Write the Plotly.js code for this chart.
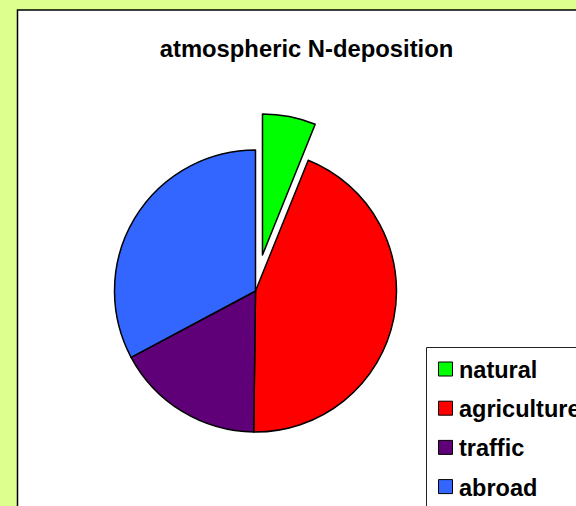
<!DOCTYPE html>
<html>
<head>
<meta charset="utf-8">
<script src="https://cdn.plot.ly/plotly-3.0.1.min.js"></script>
<style>html,body{margin:0;padding:0;background:#DDFF8E;}#chart{width:576px;height:506px;}</style>
</head>
<body>
<div id="chart"></div>
<script>
// ---- data ----
var categories = ["natural", "agriculture", "traffic", "abroad"];
var shares = [6.1, 44.1, 17.0, 32.8];
var pulls = [0.26, 0, 0, 0];
var sliceColors = ["#00FF00", "#FF0000", "#5F0078", "#3366FF"];
var chartTitle = "atmospheric N-deposition";

// ---- layout helpers (pixels -> paper) ----
var W = 576, H = 506;
function px(x) { return x / W; }
function py(y) { return 1 - y / H; }

var fontFam = "Liberation Sans, Arial, sans-serif";

var shapes = [
  // plot area frame
  {type: "rect", xref: "paper", yref: "paper", layer: "below",
   x0: px(17.5), x1: px(640), y0: py(560), y1: py(10),
   fillcolor: "#FFFFFF", line: {color: "#000000", width: 1.5}},
  // legend frame
  {type: "rect", xref: "paper", yref: "paper", layer: "below",
   x0: px(426.5), x1: px(640), y0: py(560), y1: py(347.5),
   fillcolor: "#FFFFFF", line: {color: "#222222", width: 1}}
];
var annotations = [];
var rowTop = 369, rowStep = 39.2;
categories.forEach(function (c, i) {
  var cy = rowTop + i * rowStep;
  shapes.push({type: "rect", xref: "paper", yref: "paper", layer: "above",
    x0: px(438.5), x1: px(452.5), y0: py(cy + 7), y1: py(cy - 7),
    fillcolor: sliceColors[i], line: {color: "#000000", width: 1}});
  annotations.push({xref: "paper", yref: "paper", x: px(457), y: py(cy + 1),
    xanchor: "left", yanchor: "middle", showarrow: false, text: "<b>" + c + "</b>",
    font: {family: fontFam, size: 23.5, color: "#000000"}});
});

// pie geometry: centre (255,291), radius 141 incl. pull allowance
var R = 141, half = R * (1 + Math.max.apply(null, pulls));
var cx = 255.5, cyc = 291;

var data = [{
  type: "pie",
  labels: categories,
  values: shares,
  pull: pulls,
  sort: false,
  direction: "clockwise",
  rotation: 0,
  textinfo: "none",
  hoverinfo: "none",
  marker: {colors: sliceColors, line: {color: "#000000", width: 1.5}},
  domain: {x: [px(cx - half), px(cx + half)], y: [py(cyc + half), py(cyc - half)]}
}];

var layout = {
  width: W, height: H,
  margin: {l: 0, r: 0, t: 0, b: 0},
  paper_bgcolor: "#DDFF8E",
  showlegend: false,
  title: {text: "<b>" + chartTitle + "</b>", x: px(306.5), xanchor: "center",
          y: py(49), yanchor: "middle", yref: "paper",
          font: {family: fontFam, size: 23.8, color: "#000000"}},
  shapes: shapes,
  annotations: annotations
};

Plotly.newPlot("chart", data, layout, {displayModeBar: false, staticPlot: true});
</script>
</body>
</html>
